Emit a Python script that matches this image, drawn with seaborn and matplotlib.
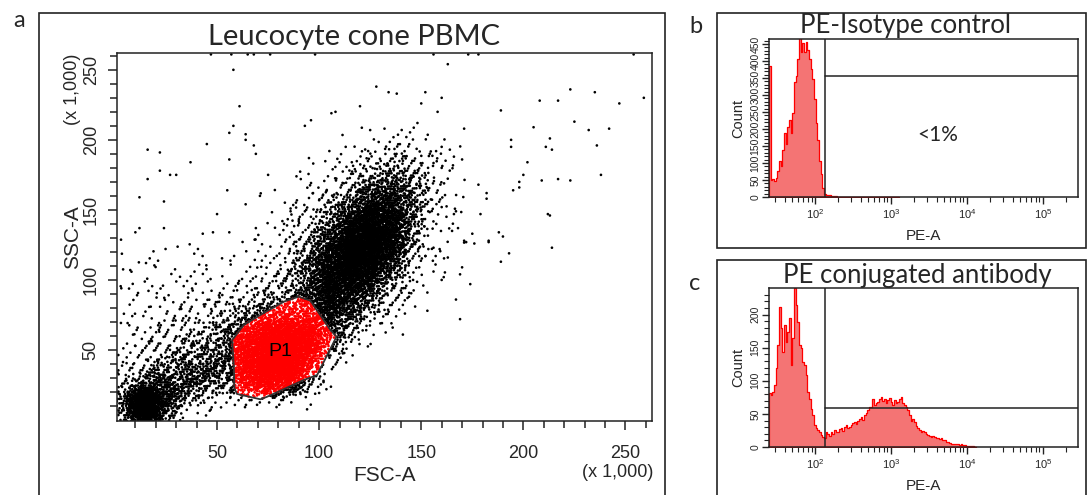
import numpy as np
import pandas as pd
import matplotlib
matplotlib.use("Agg")
import matplotlib.pyplot as plt
from matplotlib.patches import Polygon, Rectangle
from matplotlib.path import Path
import seaborn as sns

# ---------------- data ----------------
# scatter (FSC-A / SSC-A, x1000): point counts per 10x10 cell, cell centres 5,15,...
CELL = 10
CELL_X0 = 5
CELL_Y0 = 5
# rows listed top (SSC 205) to bottom (SSC 5); columns FSC 5 .. 165
CELL_COUNTS_TOP_DOWN = [
    [0, 0, 0, 0, 0, 0, 0, 0, 0, 0, 0, 0, 2, 3, 3, 2, 0],
    [0, 0, 0, 0, 0, 0, 0, 0, 0, 0, 0, 2, 4, 7, 8, 4, 1],
    [0, 0, 0, 0, 0, 0, 0, 0, 0, 1, 2, 5, 10, 18, 16, 6, 2],
    [0, 0, 0, 0, 0, 0, 0, 0, 1, 2, 4, 10, 25, 40, 30, 10, 3],
    [0, 0, 0, 0, 0, 0, 0, 0, 1, 3, 8, 25, 55, 75, 45, 12, 3],
    [0, 0, 0, 0, 0, 0, 0, 1, 2, 6, 18, 50, 110, 120, 50, 12, 3],
    [0, 0, 0, 0, 0, 0, 0, 1, 3, 10, 35, 100, 180, 160, 45, 10, 2],
    [0, 0, 0, 0, 0, 0, 1, 2, 5, 18, 60, 160, 240, 170, 35, 6, 2],
    [1, 1, 1, 1, 1, 1, 2, 3, 8, 28, 100, 220, 260, 150, 25, 4, 1],
    [2, 2, 2, 2, 2, 2, 3, 5, 12, 40, 140, 240, 220, 100, 15, 3, 0],
    [2, 3, 3, 3, 3, 3, 5, 8, 16, 55, 160, 220, 160, 55, 8, 2, 0],
    [3, 3, 4, 4, 4, 5, 8, 12, 22, 70, 160, 170, 90, 22, 4, 0, 0],
    [3, 4, 5, 6, 7, 10, 15, 25, 40, 70, 140, 110, 45, 10, 2, 0, 0],
    [3, 5, 7, 8, 12, 18, 40, 65, 75, 75, 110, 60, 18, 4, 0, 0, 0],
    [3, 6, 10, 14, 20, 30, 95, 160, 180, 150, 70, 25, 6, 1, 0, 0, 0],
    [4, 8, 14, 22, 32, 45, 150, 240, 260, 180, 40, 10, 2, 0, 0, 0, 0],
    [4, 10, 22, 35, 50, 50, 170, 260, 270, 130, 12, 3, 0, 0, 0, 0, 0],
    [6, 20, 45, 65, 65, 45, 150, 250, 230, 50, 4, 0, 0, 0, 0, 0, 0],
    [15, 80, 85, 65, 40, 25, 90, 160, 120, 20, 1, 0, 0, 0, 0, 0, 0],
    [70, 420, 120, 30, 12, 5, 8, 12, 5, 2, 0, 0, 0, 0, 0, 0, 0],
    [50, 420, 40, 4, 1, 0, 0, 0, 0, 0, 0, 0, 0, 0, 0, 0, 0],
]

# isolated events outside the dense clouds (FSC, SSC)
SPARSE_FSC = [58, 61, 58, 56, 64, 64, 68, 69, 45, 37, 56, 16, 22, 22, 16, 27, 30, 12, 24, 55,
              64, 71, 75, 50, 10, 12, 24, 43, 48, 56, 69, 82, 93, 96, 106, 108, 120, 128, 95, 105,
              91, 97, 86, 86, 90, 93, 113, 116, 124, 132, 110, 47, 57, 65, 68, 76, 98,
              163, 134, 138, 152, 150, 160, 158, 189, 208, 217, 223, 235, 247, 259, 225, 232, 242, 205,
              171, 194, 194, 213, 211, 214, 236, 202, 200, 198, 195, 198, 209, 217, 223, 238, 178, 182,
              182, 179, 166, 167, 212, 213, 168, 175, 171, 188, 190, 183, 160, 164, 166, 170, 160, 160,
              156, 173, 178, 254,
              172, 176, 183, 214, 193, 189, 170, 169, 161, 160, 174, 163, 159, 156, 157, 156, 153, 153,
              167, 169, 151, 147, 141, 136, 152, 149, 149, 149, 146, 144, 142]
SPARSE_SSC = [250, 224, 210, 205, 204, 200, 196, 190, 197, 184, 186, 193, 191, 178, 172, 175, 175, 159, 156, 164,
              154, 160, 175, 147, 134, 137, 137, 133, 134, 134, 137, 142, 210, 214, 219, 220, 224, 238, 187, 192,
              172, 162, 151, 149, 142, 149, 195, 184, 192, 208, 184, 261, 261, 261, 261, 261, 261,
              254, 234, 233, 234, 226, 230, 220, 221, 228, 228, 236, 234, 226, 230, 213, 207, 208, 209,
              208, 200, 195, 201, 195, 193, 196, 184, 175, 170, 164, 166, 171, 172, 171, 175, 168, 162,
              158, 147, 147, 149, 147, 146, 137, 133, 128, 134, 131, 128, 195, 193, 188, 186, 152, 180,
              261, 261, 261, 261,
              127, 126, 127, 123, 119, 113, 109, 104, 102, 100, 97, 116, 122, 123, 111, 106, 91, 78,
              86, 72, 96, 81, 61, 66, 117, 123, 117, 109, 100, 88, 76]

# P1 gate vertices (FSC, SSC)
GATE_FSC = [90.0, 95.7, 105.5, 108.5, 99.0, 92.5, 74.5, 71.2, 59.8, 58.5, 58.2, 57.4, 63.1, 71.2, 82.7]
GATE_SSC = [88.1, 85.2, 64.3, 59.5, 32.1, 28.6, 16.6, 14.8, 18.6, 22.6, 38.1, 57.1, 67.9, 75.0, 84.5]

# histograms: log10(PE-A) bins
HIST_LOG_START = 1.408
HIST_LOG_STEP = 0.02193
ISOTYPE_COUNTS = [387, 50, 52, 47, 57, 77, 107, 92, 137, 187, 157, 207, 227, 187, 247, 337, 357, 407,
                  472, 427, 452, 427, 457, 432, 407, 377, 347, 287, 217, 167, 107, 67, 27, 9, 7, 6, 5,
                  4, 3, 2, 2, 1, 1, 1, 0, 0, 0, 0, 0, 0, 0, 0, 0, 0, 0, 0, 0, 0, 0, 0, 0, 0, 0, 0, 0,
                  0, 0, 0, 0, 0, 0, 0, 0, 0, 0, 0, 1, 0]
ANTIBODY_COUNTS = [81, 78, 83, 93, 119, 154, 212, 179, 144, 184, 159, 174, 194, 124, 164, 240, 215, 189,
                   154, 149, 129, 124, 109, 83, 73, 58, 48, 33, 28, 25, 23, 18, 15, 13, 23, 20, 17, 23,
                   20, 25, 22, 23, 27, 28, 24, 30, 33, 28, 30, 33, 36, 38, 35, 40, 43, 45, 41, 48, 52,
                   56, 60, 61, 73, 63, 66, 68, 72, 76, 70, 73, 66, 71, 74, 68, 64, 71, 67, 68, 73, 76,
                   66, 63, 60, 56, 48, 40, 42, 38, 32, 28, 26, 23, 24, 23, 20, 18, 17, 15, 16, 15, 14,
                   13, 12, 13, 11, 10, 8, 7, 6, 5, 5, 4, 4, 4, 3, 4, 3, 3, 2, 2, 1, 1, 1, 0.5]
GATE_PE = 135
ISOTYPE_MARKER = 356
ANTIBODY_MARKER = 59

# ---------------- helpers ----------------
ALPHA4 = 1.0 / 1.1673039782614187 ** np.arange(1, 5)


def cells_to_points(counts_top_down):
    """Spread each cell's count over its neighbourhood with a fixed low-discrepancy pattern."""
    grid = np.flipud(np.array(counts_top_down))
    xs, ys = [], []
    idx = 1
    for r in range(grid.shape[0]):
        for c in range(grid.shape[1]):
            n = int(grid[r, c])
            if n == 0:
                continue
            k = np.arange(idx, idx + n)
            idx += n
            u = (0.5 + np.outer(k, ALPHA4)) % 1.0
            xs.append(CELL_X0 + c * CELL + (u[:, 0] + u[:, 1] - 1) * CELL)
            ys.append(CELL_Y0 + r * CELL + (u[:, 2] + u[:, 3] - 1) * CELL)
    return np.concatenate(xs), np.concatenate(ys)


def px_axes(l, t, r, b):
    W, H = 1088, 495
    return [l / W, 1 - b / H, (r - l) / W, (b - t) / H]


# ---------------- style ----------------
sns.set_theme(style="white")
TEXT_FONT = ["Lato", "DejaVu Sans"]
AXIS_FONT = ["Liberation Sans Narrow", "Liberation Sans", "DejaVu Sans"]
plt.rcParams["font.family"] = AXIS_FONT
plt.rcParams["mathtext.default"] = "regular"
plt.rcParams["axes.edgecolor"] = "#222222"
plt.rcParams["axes.linewidth"] = 1.1

fig = plt.figure(figsize=(10.88, 4.95), dpi=100)
fig.patch.set_facecolor("white")

# panel frames
for (l, t, r, b) in [(39, 13, 665, 497), (717, 13, 1086, 248), (717, 260, 1086, 497)]:
    fig.add_artist(Rectangle((l / 1088, 1 - b / 495), (r - l) / 1088, (b - t) / 495,
                             transform=fig.transFigure, fill=False, ec="#222222", lw=1.2))

fig.text(13 / 1088, 1 - 27 / 495, "a", family=TEXT_FONT, fontsize=17, va="baseline")
fig.text(689 / 1088, 1 - 33 / 495, "b", family=TEXT_FONT, fontsize=17, va="baseline")
fig.text(689 / 1088, 1 - 290 / 495, "c", family=TEXT_FONT, fontsize=17, va="baseline")

# ---------------- panel a: scatter ----------------
ax = fig.add_axes(px_axes(117, 53, 652, 421))
cx, cy = cells_to_points(CELL_COUNTS_TOP_DOWN)
fsc = np.concatenate([cx, np.array(SPARSE_FSC, float)])
ssc = np.concatenate([cy, np.array(SPARSE_SSC, float)])
gate = Path(np.column_stack([GATE_FSC, GATE_SSC]))
inside = gate.contains_points(np.column_stack([fsc, ssc]))
events = pd.DataFrame({"FSC-A": fsc, "SSC-A": ssc, "P1": inside})

sns.scatterplot(data=events[~events["P1"]], x="FSC-A", y="SSC-A", s=3.6, color="black",
                linewidth=0, edgecolor="none", ax=ax, legend=False)
sns.scatterplot(data=events[events["P1"]], x="FSC-A", y="SSC-A", s=3.6, color="#ff0000",
                linewidth=0, edgecolor="none", ax=ax, legend=False)
ax.add_patch(Polygon(np.column_stack([GATE_FSC, GATE_SSC]), closed=True, fill=False,
                     ec="#333333", lw=1.3))
ax.text(81, 49, "P1", fontsize=14, ha="center", va="center", color="black",
        family=["Liberation Sans", "DejaVu Sans"])

ax.set_xlim(1, 263)
ax.set_ylim(-0.7, 262)
ax.set_xticks([50, 100, 150, 200, 250])
ax.set_yticks([50, 100, 150, 200, 250])
ax.set_xticks([v for v in range(10, 261, 10) if v % 50], minor=True)
ax.set_yticks([v for v in range(10, 261, 10) if v % 50], minor=True)
ax.tick_params(axis="both", which="both", bottom=True, left=True, top=False, right=False)
ax.tick_params(axis="both", which="major", direction="out", length=6.5, width=1.1,
               color="#222222", labelsize=13)
ax.tick_params(axis="both", which="minor", direction="out", length=5, width=1.1, color="#222222")
ax.tick_params(axis="x", which="major", pad=10.5)
ax.tick_params(axis="y", which="major", labelrotation=90, pad=6)
for lab in ax.get_yticklabels():
    lab.set_va("center")
ax.set_xlabel("")
ax.set_ylabel("")
ax.text(0.5, -0.149, "FSC-A", transform=ax.transAxes, ha="center", va="center",
        fontsize=15, family=["Liberation Sans", "DejaVu Sans"])
ax.text(-0.084, 0.5, "SSC-A", transform=ax.transAxes, ha="center", va="center",
        rotation=90, fontsize=15, family=["Liberation Sans", "DejaVu Sans"])
ax.text(0.936, -0.139, "(x 1,000)", transform=ax.transAxes, ha="center", va="center", fontsize=13)
ax.text(-0.084, 0.902, "(x 1,000)", transform=ax.transAxes, ha="center", va="center",
        rotation=90, fontsize=13)
fig.text(354 / 1088, 1 - 45 / 495, "Leucocyte cone PBMC", family=TEXT_FONT, fontsize=21,
         ha="center", va="baseline")


# ---------------- panels b and c: histograms ----------------
def draw_hist(box, counts, ymax, yticks, marker, title, title_x, title_base, note=None):
    hax = fig.add_axes(px_axes(*box))
    centers = HIST_LOG_START + HIST_LOG_STEP * np.arange(len(counts))
    edges = np.append(centers - HIST_LOG_STEP / 2, centers[-1] + HIST_LOG_STEP / 2)
    table = pd.DataFrame({"logPE": centers, "count": np.asarray(counts, float)})
    sns.histplot(data=table, x="logPE", weights="count", bins=edges.tolist(), element="step",
                 fill=True, color="red", alpha=1, linewidth=0.9, ax=hax)
    for coll in hax.collections:
        coll.set_facecolor("#f47474")
        coll.set_edgecolor("#ff0000")
        coll.set_linewidth(0.9)
    g = np.log10(GATE_PE)
    hax.axvline(g, color="#222222", lw=1.1)
    hax.plot([g, 5.47], [marker, marker], color="#222222", lw=1.1)
    hax.set_xlim(1.395, 5.461)
    hax.set_ylim(0, ymax)
    hax.set_xticks([2, 3, 4, 5])
    hax.set_xticklabels([r"$10^{%d}$" % d for d in (2, 3, 4, 5)])
    minor = [np.log10(m * 10.0 ** d) for d in range(1, 6) for m in range(2, 10)]
    hax.set_xticks([m for m in minor if 1.395 < m < 5.461], minor=True)
    hax.set_yticks(yticks)
    hax.set_yticks(np.arange(0, ymax, 10), minor=True)
    hax.tick_params(axis="both", which="both", bottom=True, left=True, top=False, right=False)
    hax.tick_params(axis="both", which="major", direction="out", length=5, width=1,
                    color="#222222", labelsize=8, pad=2)
    hax.tick_params(axis="both", which="minor", direction="out", length=3.5, width=0.8,
                    color="#222222")
    hax.tick_params(axis="y", which="major", labelrotation=90, labelsize=7.5, pad=1)
    for lab in hax.get_yticklabels():
        lab.set_va("center")
    hax.set_xlabel("")
    hax.set_ylabel("")
    hax.text(-0.100, 0.5, "Count", transform=hax.transAxes, rotation=90, ha="center",
             va="center", fontsize=10.5, family=["Liberation Sans", "DejaVu Sans"])
    hax.text(0.5, -0.245, "PE-A", transform=hax.transAxes, ha="center", va="center",
             fontsize=11, family=["Liberation Sans", "DejaVu Sans"])
    fig.text(title_x / 1088, 1 - title_base / 495, title, family=TEXT_FONT,
             fontsize=18.5, ha="center", va="baseline")
    if note:
        hax.text(3.62, ymax * 0.39, note, family=TEXT_FONT, fontsize=15,
                 ha="center", va="center")
    return hax


draw_hist((769, 39, 1078, 197), ISOTYPE_COUNTS, 465, list(range(0, 451, 50)),
          ISOTYPE_MARKER, "PE-Isotype control", 905, 33, note="<1%")
draw_hist((769, 288, 1078, 447), ANTIBODY_COUNTS, 240, [0, 50, 100, 150, 200],
          ANTIBODY_MARKER, "PE conjugated antibody", 917, 283)

fig.savefig("out.png", dpi=100)
